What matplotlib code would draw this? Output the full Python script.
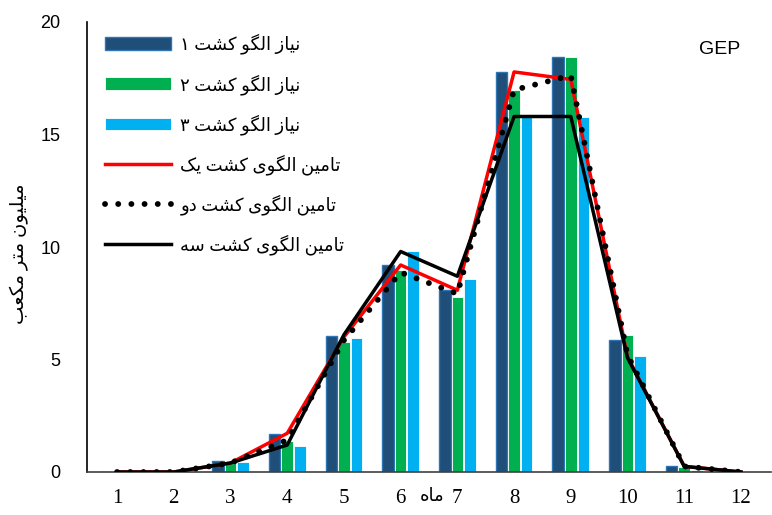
import matplotlib
matplotlib.use("Agg")
import matplotlib.pyplot as plt
import numpy as np

# ---------------- data ----------------
months = [1, 2, 3, 4, 5, 6, 7, 8, 9, 10, 11, 12]
need1 = [0, 0, 0.5, 1.7, 6.05, 9.22, 8.08, 17.8, 18.45, 5.85, 0.25, 0]
need2 = [0, 0, 0.45, 1.4, 5.8, 9.0, 7.78, 17.0, 18.45, 6.1, 0.22, 0]
need3 = [0, 0, 0.45, 1.15, 5.95, 9.8, 8.6, 15.8, 15.8, 5.15, 0.08, 0]
supply1 = [0, 0, 0.4, 1.72, 6.0, 9.2, 8.08, 17.78, 17.45, 5.12, 0.25, 0]
supply2 = [0, 0, 0.4, 1.42, 5.85, 8.87, 7.92, 16.98, 17.62, 5.2, 0.25, 0]
supply3 = [0, 0, 0.4, 1.2, 6.1, 9.8, 8.7, 15.8, 15.8, 5.08, 0.25, 0]
labels = ["نیاز الگو کشت ۱", "نیاز الگو کشت ۲", "نیاز الگو کشت ۳",
          "تامین الگوی کشت یک", "تامین الگوی کشت دو", "تامین الگوی کشت سه"]
ylabel = "میلیون متر مکعب"
xlabel = "ماه"
title = "GEP"
yticks = [0, 5, 10, 15, 20]

# -------- minimal Persian shaping (contextual forms + RTL order) --------
FORMS = {
    '\u0627': ('\uFE8D', '\uFE8E', None, None),
    '\u0628': ('\uFE8F', '\uFE90', '\uFE91', '\uFE92'),
    '\u062A': ('\uFE95', '\uFE96', '\uFE97', '\uFE98'),
    '\u062F': ('\uFEA9', '\uFEAA', None, None),
    '\u0631': ('\uFEAD', '\uFEAE', None, None),
    '\u0632': ('\uFEAF', '\uFEB0', None, None),
    '\u0633': ('\uFEB1', '\uFEB2', '\uFEB3', '\uFEB4'),
    '\u0634': ('\uFEB5', '\uFEB6', '\uFEB7', '\uFEB8'),
    '\u0639': ('\uFEC9', '\uFECA', '\uFECB', '\uFECC'),
    '\u0644': ('\uFEDD', '\uFEDE', '\uFEDF', '\uFEE0'),
    '\u0645': ('\uFEE1', '\uFEE2', '\uFEE3', '\uFEE4'),
    '\u0646': ('\uFEE5', '\uFEE6', '\uFEE7', '\uFEE8'),
    '\u0647': ('\uFEE9', '\uFEEA', '\uFEEB', '\uFEEC'),
    '\u0648': ('\uFEED', '\uFEEE', None, None),
    '\u06A9': ('\uFB8E', '\uFB8F', '\uFB90', '\uFB91'),
    '\u06AF': ('\uFB92', '\uFB93', '\uFB94', '\uFB95'),
    '\u06CC': ('\uFBFC', '\uFBFD', '\uFBFE', '\uFBFF'),
}


def shape(s):
    out = []
    n = len(s)
    for i, c in enumerate(s):
        if c not in FORMS:
            out.append(c)
            continue
        f = FORMS[c]
        prev = s[i - 1] if i > 0 else None
        nxt = s[i + 1] if i < n - 1 else None
        pj = prev in FORMS and FORMS[prev][2] is not None
        nj = nxt in FORMS and f[2] is not None
        if pj and nj:
            out.append(f[3])
        elif pj:
            out.append(f[1])
        elif nj:
            out.append(f[2])
        else:
            out.append(f[0])
    return ''.join(out)[::-1]


FA = ['Liberation Serif', 'DejaVu Sans']

# ---------------- figure ----------------
fig = plt.figure(figsize=(7.72, 5.15), dpi=100)
ax = fig.add_axes([87 / 772, (515 - 472) / 515, (771 - 87) / 772, 450 / 515])

x = np.array(months, dtype=float)
w = 0.205
off = 0.222
b1 = ax.bar(x - off, need1, width=w, color='#1F4E79', edgecolor='#2E75B6', linewidth=1.0,
            label=shape(labels[0]), zorder=2)
b2 = ax.bar(x, need2, width=w, color='#00B050', edgecolor='white', linewidth=0.6,
            label=shape(labels[1]), zorder=2)
b3 = ax.bar(x + off, need3, width=w, color='#00B0F0', edgecolor='white', linewidth=0.6,
            label=shape(labels[2]), zorder=2)

l1, = ax.plot(x, supply1, color='#FF0000', lw=2.5, label=shape(labels[3]), zorder=3)
l3, = ax.plot(x, supply3, color='black', lw=2.5, label=shape(labels[5]), zorder=3)
l2, = ax.plot(x, supply2, color='black', lw=4.2, linestyle=(0, (0.01, 2.25)),
              dash_capstyle='round', label=shape(labels[4]), zorder=4)

ax.set_xlim(0.47, 12.53)
ax.set_ylim(0, 20)
ax.set_xticks(months)
ax.set_xticklabels([str(m) for m in months], fontfamily='Liberation Serif', fontsize=15)
ax.set_yticks(yticks)
ax.set_yticklabels([str(t) for t in yticks], fontfamily='Liberation Sans', fontsize=13)
ax.tick_params(axis='both', length=0)
ax.tick_params(axis='y', pad=19)
ax.tick_params(axis='x', pad=12)

for s in ['top', 'right']:
    ax.spines[s].set_visible(False)
ax.spines['left'].set_color('black')
ax.spines['left'].set_linewidth(1.2)
ax.spines['bottom'].set_color('#404040')
ax.spines['bottom'].set_linewidth(1.2)

ax.set_ylabel(shape(ylabel), family=FA, fontsize=14)
ax.yaxis.set_label_coords(-0.085, 0.484)
ax.text(6.55, -1.1, shape(xlabel), family=FA, fontsize=13, ha='center', va='center',
        transform=ax.transData, clip_on=False)
ax.text(0.955, 0.94, title, transform=ax.transAxes, fontfamily='Liberation Sans',
        fontsize=14, ha='right', va='center')

handles = [b1, b2, b3, l1, l2, l3]
leg = ax.legend(handles=handles, labels=[shape(t) for t in labels],
                loc='upper left', bbox_to_anchor=(0.002, 1.01), frameon=False,
                prop={'family': FA, 'size': 13}, handlelength=3.65,
                labelspacing=1.08, handletextpad=0.55)

fig.savefig('out.png', dpi=100)
